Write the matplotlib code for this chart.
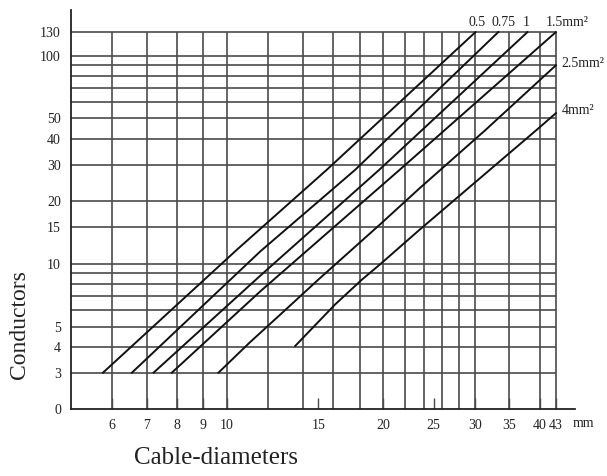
import matplotlib
matplotlib.use('Agg')
import matplotlib.pyplot as plt
from matplotlib.ticker import NullLocator, FixedLocator, FixedFormatter

plt.rcParams['font.family'] = ['Liberation Serif', 'DejaVu Serif']

# ---- data ----
labels = ['0.5', '0.75', '1', '1.5mm²', '2.5mm²', '4mm²']
d_05 = [5.77, 10.45, 15.56, 30.1]
n_05 = [3, 11.7, 28.3, 130]
d_075 = [6.56, 11.6, 17.65, 33.3]
n_075 = [3, 11.5, 28.3, 130]
d_1 = [7.22, 11.6, 19.7, 37.9]
n_1 = [3, 8.79, 28.5, 130]
d_15 = [7.83, 11.6, 21.5, 43]
n_15 = [3, 7.39, 28.3, 130]
d_25 = [9.63, 11.05, 13.3, 15.0, 19.7, 23.5, 31.5, 43]
n_25 = [3, 4.18, 6.38, 8.41, 15.45, 23.1, 44.1, 90]
d_4 = [13.53, 16.15, 18.2, 19.7, 23.5, 39.5, 43]
n_4 = [4.03, 6.38, 8.41, 9.93, 14.6, 44.1, 53]

x_grid = [6, 7, 8, 9, 10, 12, 14, 16, 18, 20, 22, 24, 26, 28, 30, 35, 40, 43]
y_grid = [3, 4, 5, 6, 7, 8, 9, 10, 15, 20, 30, 40, 50, 60, 70, 80, 90, 100, 130]
x_ticks = [6, 7, 8, 9, 10, 15, 20, 25, 30, 35, 40, 43]
x_ticklabels = ['6', '7', '8', '9', '10', '15', '20', '25', '30', '35', '40', '43']
y_ticks = [2, 3, 4, 5, 10, 15, 20, 30, 40, 50, 100, 130]
y_ticklabels = ['0', '3', '4', '5', '10', '15', '20', '30', '40', '50', '100', '130']

W, H = 607, 476
fig = plt.figure(figsize=(W / 100, H / 100), dpi=100)
ax = fig.add_axes([70.7 / W, (H - 409.3) / H, (575 - 70.7) / W, (409.3 - 10) / H])
ax.set_xscale('log')
ax.set_yscale('log')
ax.set_xlim(5.0, 46.8)
ax.set_ylim(2.0, 166)

gc = '#4a4a4a'
ax.vlines(x_grid, 2.0, 130, color=gc, lw=1.2, zorder=1)
ax.hlines(y_grid, 5.0, 43, color=gc, lw=1.2, zorder=1)

series = [(d_05, n_05), (d_075, n_075), (d_1, n_1), (d_15, n_15), (d_25, n_25), (d_4, n_4)]
for d, n in series:
    ax.plot(d, n, color='#111111', lw=1.4, zorder=3)

for s in ['top', 'right']:
    ax.spines[s].set_visible(False)
for s in ['left', 'bottom']:
    ax.spines[s].set_color('#222222')
    ax.spines[s].set_linewidth(1.3)

ax.xaxis.set_major_locator(FixedLocator(x_ticks))
ax.xaxis.set_major_formatter(FixedFormatter(x_ticklabels))
ax.xaxis.set_minor_locator(NullLocator())
ax.yaxis.set_major_locator(FixedLocator(y_ticks))
ax.yaxis.set_major_formatter(FixedFormatter(y_ticklabels))
ax.yaxis.set_minor_locator(NullLocator())
ax.tick_params(axis='x', direction='in', length=8, width=1.0, color=gc, pad=7, labelsize=10, labelcolor='#222222')
ax.tick_params(axis='y', length=0, pad=7, labelsize=10, labelcolor='#222222')

# series labels
tk = dict(fontsize=10, color='#222222')
ax.annotate(labels[0], xy=(d_05[-1], n_05[-1]), xytext=(1, 2.5), textcoords='offset points', ha='center', va='bottom', **tk)
ax.annotate(labels[1], xy=(d_075[-1], n_075[-1]), xytext=(4, 2.5), textcoords='offset points', ha='center', va='bottom', **tk)
ax.annotate(labels[2], xy=(d_1[-1], n_1[-1]), xytext=(-1, 2.5), textcoords='offset points', ha='center', va='bottom', **tk)
ax.annotate(labels[3], xy=(d_15[-1], n_15[-1]), xytext=(-7, 2.5), textcoords='offset points', ha='left', va='bottom', **tk)
ax.annotate(labels[4], xy=(d_25[-1], n_25[-1]), xytext=(4, 1), textcoords='offset points', ha='left', va='center', **tk)
ax.annotate(labels[5], xy=(d_4[-1], n_4[-1]), xytext=(4, 2), textcoords='offset points', ha='left', va='center', **tk)

ax.annotate('mm', xy=(1.0, 0.0), xycoords='axes fraction', xytext=(6, -10.5), textcoords='offset points',
            ha='center', va='center', fontsize=10, color='#222222')

fig.text(20 / W, 1 - 325 / H, 'Conductors', rotation=90, ha='center', va='center', fontsize=17, color='#222222')
fig.text(216 / W, 1 - 458 / H, 'Cable-diameters', ha='center', va='center', fontsize=18, color='#222222')

fig.savefig('out.png', dpi=100)
